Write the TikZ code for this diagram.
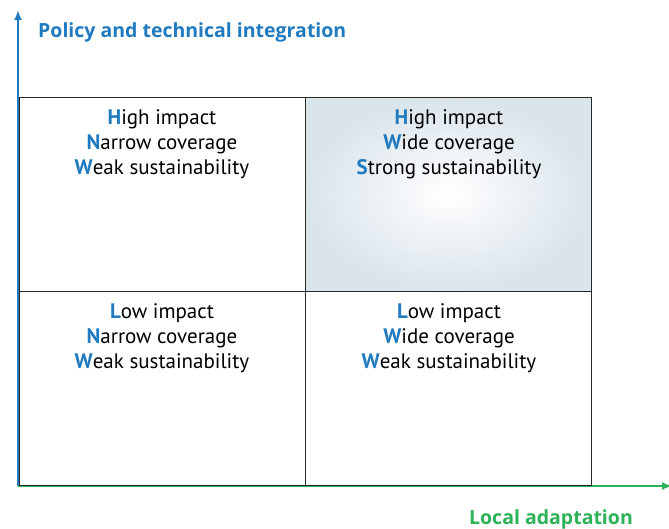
\documentclass[tikz,border=0pt]{standalone}
\usepackage{fontspec}
\setmainfont{PT Sans}
\newfontfamily\labfont{Open Sans}
\usetikzlibrary{arrows.meta}
\definecolor{axblue}{RGB}{31,122,192}
\definecolor{axgreen}{RGB}{44,178,88}
\definecolor{shadeblue}{RGB}{218,228,235}
\definecolor{gridline}{RGB}{40,40,40}
\begin{document}
\begin{tikzpicture}[x=1pt,y=-1pt,
  cell/.style={draw=gridline,line width=0.9pt,minimum width=286pt,minimum height=194pt,inner sep=0pt,anchor=north west},
  celltext/.style={anchor=north,align=center,font=\fontsize{21}{25}\selectfont,inner sep=0pt},
  axlabel/.style={font=\labfont\bfseries\fontsize{19.5}{22}\selectfont,inner sep=0pt}]
\useasboundingbox (0,0) rectangle (669,529);
\node[cell] (tl) at (19,97) {};
\node[cell,inner color=white,outer color=shadeblue,shading=radial] (tr) at (305,97) {};
\node[cell] (bl) at (19,291) {};
\node[cell] (br) at (305,291) {};
\node[celltext] (tlt) at (162,109) {{\color{axblue}\bfseries H}igh impact\\{\color{axblue}\bfseries N}arrow coverage\\{\color{axblue}\bfseries W}eak sustainability};
\node[celltext] (trt) at (449,109) {{\color{axblue}\bfseries H}igh impact\\{\color{axblue}\bfseries W}ide coverage\\{\color{axblue}\bfseries S}trong sustainability};
\node[celltext] (blt) at (162,303) {{\color{axblue}\bfseries L}ow impact\\{\color{axblue}\bfseries N}arrow coverage\\{\color{axblue}\bfseries W}eak sustainability};
\node[celltext] (brt) at (449,303) {{\color{axblue}\bfseries L}ow impact\\{\color{axblue}\bfseries W}ide coverage\\{\color{axblue}\bfseries W}eak sustainability};
\coordinate (origin) at (18,486);
\coordinate (ytop) at (18,10);
\coordinate (xend) at (672,486);
\draw[axblue,line width=2.2pt,-{Latex[length=10pt,width=8pt]}] (origin) -- (ytop);
\draw[axgreen,line width=2.4pt,-{Latex[length=10pt,width=8pt]}] (origin) -- (xend);
\draw[gridline,line width=0.9pt] (bl.south west) -- (br.south east);
\node[axlabel,text=axblue,anchor=west] (ylab) at (38,32) {Policy and technical integration};
\node[axlabel,text=axgreen,anchor=center] (xlab) at (551,519) {Local adaptation};
\end{tikzpicture}
\end{document}
